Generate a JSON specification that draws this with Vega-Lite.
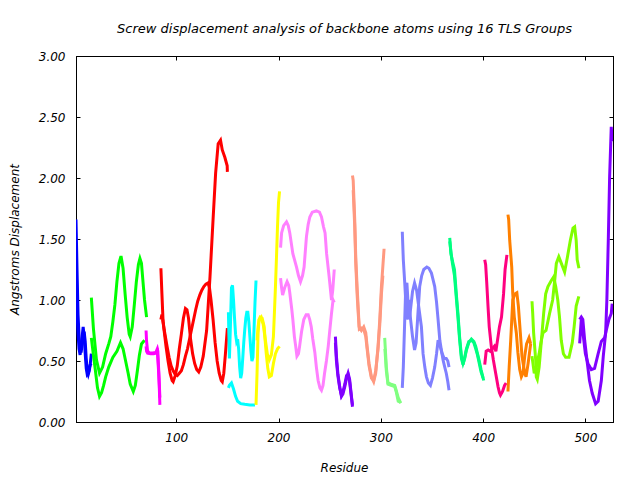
{
"$schema": "https://vega.github.io/schema/vega-lite/v6.json",
"width": 537, "height": 366,
"autosize": "none",
"padding": {"left": 76, "top": 56, "right": 27, "bottom": 58},
"background": "white",
"title": {"text": "Screw displacement analysis of backbone atoms using 16 TLS Groups", "font": "DejaVu Sans", "fontSize": 13, "fontStyle": "italic", "fontWeight": "normal", "color": "black", "anchor": "middle", "offset": 14},
"config": {
  "view": {"stroke": "black", "strokeWidth": 1},
  "axis": {"domainColor": "black", "tickColor": "black", "tickSize": -4, "grid": false, "labelFont": "DejaVu Sans", "labelFontStyle": "italic", "labelFontSize": 12, "labelColor": "black", "titleFont": "DejaVu Sans", "titleFontStyle": "italic", "titleFontWeight": "normal", "titleFontSize": 12, "titleColor": "black"}
},
"data": {"values": [
{"s":"1a","r":2,"v":1.66},{"s":"1a","r":3,"v":1.25},{"s":"1a","r":4,"v":0.88},{"s":"1a","r":5,"v":0.7},{"s":"1a","r":6,"v":0.6},{"s":"1a","r":7,"v":0.57},{"s":"1a","r":8,"v":0.64},{"s":"1a","r":9,"v":0.72},{"s":"1a","r":10,"v":0.74},{"s":"1a","r":11,"v":0.66},{"s":"1a","r":12,"v":0.52},{"s":"1a","r":13,"v":0.42},{"s":"1a","r":14,"v":0.39},{"s":"1a","r":15,"v":0.42},{"s":"1a","r":16,"v":0.48},{"s":"1a","r":17,"v":0.56},
{"s":"1b","r":2,"v":1.45},{"s":"1b","r":3,"v":0.9},{"s":"1b","r":4,"v":0.72},{"s":"1b","r":5,"v":0.6},{"s":"1b","r":6,"v":0.55},{"s":"1b","r":7,"v":0.62},{"s":"1b","r":8,"v":0.7},{"s":"1b","r":9,"v":0.78},{"s":"1b","r":10,"v":0.7},{"s":"1b","r":11,"v":0.56},{"s":"1b","r":12,"v":0.44},{"s":"1b","r":13,"v":0.39},{"s":"1b","r":14,"v":0.4},{"s":"1b","r":15,"v":0.44},{"s":"1b","r":16,"v":0.47},{"s":"1b","r":17,"v":0.48},
{"s":"2a","r":17,"v":1.02},{"s":"2a","r":19,"v":0.77},{"s":"2a","r":22,"v":0.51},{"s":"2a","r":25,"v":0.4},{"s":"2a","r":28,"v":0.45},{"s":"2a","r":31,"v":0.56},{"s":"2a","r":34,"v":0.64},{"s":"2a","r":36,"v":0.7},{"s":"2a","r":38,"v":0.82},{"s":"2a","r":40,"v":0.96},{"s":"2a","r":42,"v":1.15},{"s":"2a","r":44,"v":1.3},{"s":"2a","r":46,"v":1.36},{"s":"2a","r":48,"v":1.26},{"s":"2a","r":50,"v":1.05},{"s":"2a","r":52,"v":0.86},{"s":"2a","r":54,"v":0.72},{"s":"2a","r":55,"v":0.7},{"s":"2a","r":57,"v":0.78},{"s":"2a","r":59,"v":0.96},{"s":"2a","r":61,"v":1.15},{"s":"2a","r":63,"v":1.29},{"s":"2a","r":64.5,"v":1.34},{"s":"2a","r":66,"v":1.3},{"s":"2a","r":68,"v":1.1},{"s":"2a","r":69,"v":1.0},{"s":"2a","r":71,"v":0.86},
{"s":"2b","r":17,"v":0.69},{"s":"2b","r":19,"v":0.55},{"s":"2b","r":21,"v":0.42},{"s":"2b","r":23,"v":0.28},{"s":"2b","r":25,"v":0.21},{"s":"2b","r":27,"v":0.24},{"s":"2b","r":29,"v":0.3},{"s":"2b","r":31,"v":0.37},{"s":"2b","r":34,"v":0.45},{"s":"2b","r":38,"v":0.53},{"s":"2b","r":42,"v":0.58},{"s":"2b","r":45.5,"v":0.65},{"s":"2b","r":48,"v":0.6},{"s":"2b","r":50,"v":0.52},{"s":"2b","r":53,"v":0.4},{"s":"2b","r":55,"v":0.31},{"s":"2b","r":58,"v":0.25},{"s":"2b","r":60,"v":0.3},{"s":"2b","r":62,"v":0.42},{"s":"2b","r":64,"v":0.55},{"s":"2b","r":66,"v":0.64},{"s":"2b","r":69,"v":0.67},
{"s":"3a","r":70.5,"v":0.75},{"s":"3a","r":71,"v":0.66},{"s":"3a","r":72,"v":0.58},{"s":"3a","r":74,"v":0.565},{"s":"3a","r":77,"v":0.565},{"s":"3a","r":80,"v":0.57},{"s":"3a","r":81.5,"v":0.6},{"s":"3a","r":82,"v":0.58},{"s":"3a","r":83,"v":0.4},{"s":"3a","r":84,"v":0.14},
{"s":"3b","r":70.5,"v":0.62},{"s":"3b","r":71,"v":0.58},{"s":"3b","r":72,"v":0.565},{"s":"3b","r":75,"v":0.56},{"s":"3b","r":78,"v":0.56},{"s":"3b","r":80,"v":0.565},{"s":"3b","r":81.5,"v":0.58},{"s":"3b","r":82.5,"v":0.45},{"s":"3b","r":83.5,"v":0.3},{"s":"3b","r":84,"v":0.2},
{"s":"4a","r":85,"v":1.26},{"s":"4a","r":86,"v":1.05},{"s":"4a","r":87,"v":0.85},{"s":"4a","r":88,"v":0.76},{"s":"4a","r":90,"v":0.62},{"s":"4a","r":92,"v":0.5},{"s":"4a","r":94,"v":0.4},{"s":"4a","r":96,"v":0.34},{"s":"4a","r":97,"v":0.33},{"s":"4a","r":99,"v":0.38},{"s":"4a","r":101,"v":0.46},{"s":"4a","r":103,"v":0.6},{"s":"4a","r":105,"v":0.72},{"s":"4a","r":107,"v":0.85},{"s":"4a","r":109,"v":0.93},{"s":"4a","r":110.5,"v":0.92},{"s":"4a","r":112,"v":0.85},{"s":"4a","r":114,"v":0.68},{"s":"4a","r":116,"v":0.56},{"s":"4a","r":118,"v":0.48},{"s":"4a","r":120,"v":0.43},{"s":"4a","r":122,"v":0.41},{"s":"4a","r":124,"v":0.45},{"s":"4a","r":126.4,"v":0.54},{"s":"4a","r":129.7,"v":0.75},{"s":"4a","r":133,"v":1.19},{"s":"4a","r":136,"v":1.66},{"s":"4a","r":138.5,"v":2.04},{"s":"4a","r":141,"v":2.28},{"s":"4a","r":143.3,"v":2.31},{"s":"4a","r":145,"v":2.23},{"s":"4a","r":147.5,"v":2.17},{"s":"4a","r":149.8,"v":2.1},{"s":"4a","r":150,"v":2.05},
{"s":"4b","r":85,"v":0.84},{"s":"4b","r":86,"v":0.88},{"s":"4b","r":87,"v":0.82},{"s":"4b","r":89,"v":0.72},{"s":"4b","r":91,"v":0.62},{"s":"4b","r":93,"v":0.53},{"s":"4b","r":95,"v":0.46},{"s":"4b","r":97,"v":0.42},{"s":"4b","r":99,"v":0.39},{"s":"4b","r":101,"v":0.38},{"s":"4b","r":103,"v":0.4},{"s":"4b","r":105,"v":0.42},{"s":"4b","r":107,"v":0.47},{"s":"4b","r":109,"v":0.54},{"s":"4b","r":111,"v":0.6},{"s":"4b","r":113,"v":0.68},{"s":"4b","r":115,"v":0.76},{"s":"4b","r":117,"v":0.84},{"s":"4b","r":119,"v":0.92},{"s":"4b","r":121,"v":0.99},{"s":"4b","r":123,"v":1.04},{"s":"4b","r":125,"v":1.08},{"s":"4b","r":127,"v":1.11},{"s":"4b","r":129,"v":1.13},{"s":"4b","r":131,"v":1.14},{"s":"4b","r":132.5,"v":1.1},{"s":"4b","r":134,"v":1.0},{"s":"4b","r":136,"v":0.84},{"s":"4b","r":138,"v":0.65},{"s":"4b","r":140,"v":0.5},{"s":"4b","r":142,"v":0.4},{"s":"4b","r":144,"v":0.34},{"s":"4b","r":145,"v":0.33},{"s":"4b","r":146.5,"v":0.4},{"s":"4b","r":148,"v":0.55},{"s":"4b","r":150,"v":0.77},
{"s":"5a","r":151,"v":0.9},{"s":"5a","r":151.5,"v":0.7},{"s":"5a","r":152,"v":0.52},{"s":"5a","r":153,"v":0.8},{"s":"5a","r":154,"v":1.1},{"s":"5a","r":155,"v":1.12},{"s":"5a","r":156,"v":1.0},{"s":"5a","r":157,"v":0.85},{"s":"5a","r":158,"v":0.72},{"s":"5a","r":159,"v":0.66},{"s":"5a","r":160,"v":0.68},{"s":"5a","r":161,"v":0.6},{"s":"5a","r":162,"v":0.45},{"s":"5a","r":163,"v":0.36},{"s":"5a","r":164,"v":0.4},{"s":"5a","r":165,"v":0.52},{"s":"5a","r":166,"v":0.65},{"s":"5a","r":167,"v":0.76},{"s":"5a","r":168,"v":0.85},{"s":"5a","r":169,"v":0.9},{"s":"5a","r":170,"v":0.9},{"s":"5a","r":171,"v":0.82},{"s":"5a","r":172,"v":0.7},{"s":"5a","r":173,"v":0.58},{"s":"5a","r":174,"v":0.5},{"s":"5a","r":175,"v":0.53},{"s":"5a","r":176,"v":0.75},{"s":"5a","r":177,"v":0.98},{"s":"5a","r":178,"v":1.16},
{"s":"5b","r":151,"v":0.28},{"s":"5b","r":152,"v":0.3},{"s":"5b","r":154,"v":0.32},{"s":"5b","r":156,"v":0.27},{"s":"5b","r":158,"v":0.21},{"s":"5b","r":160,"v":0.17},{"s":"5b","r":163,"v":0.15},{"s":"5b","r":167,"v":0.145},{"s":"5b","r":172,"v":0.14},{"s":"5b","r":177,"v":0.14},
{"s":"6a","r":178,"v":0.14},{"s":"6a","r":179,"v":0.4},{"s":"6a","r":180,"v":0.73},{"s":"6a","r":181,"v":0.84},{"s":"6a","r":182,"v":0.86},{"s":"6a","r":184,"v":0.85},{"s":"6a","r":186,"v":0.78},{"s":"6a","r":187,"v":0.66},{"s":"6a","r":188,"v":0.56},{"s":"6a","r":189.5,"v":0.44},{"s":"6a","r":191,"v":0.37},{"s":"6a","r":193,"v":0.38},{"s":"6a","r":195,"v":0.48},{"s":"6a","r":197,"v":0.56},{"s":"6a","r":199,"v":0.6},{"s":"6a","r":201,"v":0.62},
{"s":"6b","r":179,"v":0.67},{"s":"6b","r":180,"v":0.78},{"s":"6b","r":181,"v":0.84},{"s":"6b","r":183,"v":0.86},{"s":"6b","r":185,"v":0.8},{"s":"6b","r":187,"v":0.68},{"s":"6b","r":189,"v":0.56},{"s":"6b","r":191,"v":0.51},{"s":"6b","r":193,"v":0.55},{"s":"6b","r":195,"v":0.7},{"s":"6b","r":196,"v":0.9},{"s":"6b","r":197,"v":1.11},{"s":"6b","r":198,"v":1.35},{"s":"6b","r":199,"v":1.6},{"s":"6b","r":200,"v":1.8},{"s":"6b","r":201,"v":1.89},
{"s":"7a","r":202,"v":1.43},{"s":"7a","r":203,"v":1.55},{"s":"7a","r":205,"v":1.61},{"s":"7a","r":207.8,"v":1.64},{"s":"7a","r":209.5,"v":1.61},{"s":"7a","r":211,"v":1.55},{"s":"7a","r":214,"v":1.38},{"s":"7a","r":217.6,"v":1.27},{"s":"7a","r":219.5,"v":1.2},{"s":"7a","r":221.5,"v":1.15},{"s":"7a","r":223.5,"v":1.2},{"s":"7a","r":225,"v":1.27},{"s":"7a","r":227.3,"v":1.52},{"s":"7a","r":229,"v":1.62},{"s":"7a","r":230.6,"v":1.68},{"s":"7a","r":233,"v":1.72},{"s":"7a","r":237,"v":1.73},{"s":"7a","r":240,"v":1.72},{"s":"7a","r":242,"v":1.68},{"s":"7a","r":244,"v":1.6},{"s":"7a","r":245.5,"v":1.55},{"s":"7a","r":247,"v":1.38},{"s":"7a","r":249.5,"v":1.19},{"s":"7a","r":251.8,"v":1.0},{"s":"7a","r":253,"v":1.08},{"s":"7a","r":254.5,"v":1.25},
{"s":"7b","r":202,"v":1.18},{"s":"7b","r":203,"v":1.1},{"s":"7b","r":204,"v":1.04},{"s":"7b","r":206,"v":1.1},{"s":"7b","r":208.4,"v":1.15},{"s":"7b","r":210,"v":1.12},{"s":"7b","r":211,"v":1.06},{"s":"7b","r":213,"v":0.92},{"s":"7b","r":214,"v":0.84},{"s":"7b","r":215.5,"v":0.7},{"s":"7b","r":216.8,"v":0.62},{"s":"7b","r":218,"v":0.54},{"s":"7b","r":219.5,"v":0.56},{"s":"7b","r":220.6,"v":0.62},{"s":"7b","r":222.5,"v":0.74},{"s":"7b","r":224.7,"v":0.84},{"s":"7b","r":227,"v":0.88},{"s":"7b","r":229,"v":0.88},{"s":"7b","r":230.5,"v":0.84},{"s":"7b","r":232,"v":0.78},{"s":"7b","r":233.5,"v":0.68},{"s":"7b","r":235.5,"v":0.57},{"s":"7b","r":237,"v":0.45},{"s":"7b","r":238.7,"v":0.34},{"s":"7b","r":240.5,"v":0.28},{"s":"7b","r":242,"v":0.26},{"s":"7b","r":243.5,"v":0.3},{"s":"7b","r":245,"v":0.4},{"s":"7b","r":246.8,"v":0.5},{"s":"7b","r":248.6,"v":0.62},{"s":"7b","r":250,"v":0.74},{"s":"7b","r":251.8,"v":0.89},{"s":"7b","r":253.3,"v":1.0},{"s":"7b","r":254.5,"v":0.98},
{"s":"8a","r":255.6,"v":0.7},{"s":"8a","r":256.6,"v":0.54},{"s":"8a","r":258,"v":0.4},{"s":"8a","r":259.8,"v":0.29},{"s":"8a","r":261.5,"v":0.21},{"s":"8a","r":263,"v":0.23},{"s":"8a","r":264.8,"v":0.29},{"s":"8a","r":266.5,"v":0.36},{"s":"8a","r":268,"v":0.4},{"s":"8a","r":269.5,"v":0.35},{"s":"8a","r":271.3,"v":0.21},{"s":"8a","r":272.3,"v":0.125},
{"s":"8b","r":255.6,"v":0.65},{"s":"8b","r":256.6,"v":0.5},{"s":"8b","r":258,"v":0.38},{"s":"8b","r":259.8,"v":0.28},{"s":"8b","r":261.5,"v":0.22},{"s":"8b","r":263,"v":0.25},{"s":"8b","r":264.8,"v":0.31},{"s":"8b","r":266.5,"v":0.38},{"s":"8b","r":268,"v":0.39},{"s":"8b","r":269.5,"v":0.33},{"s":"8b","r":271.3,"v":0.2},{"s":"8b","r":272.3,"v":0.14},
{"s":"9a","r":272.3,"v":2.02},{"s":"9a","r":273,"v":1.98},{"s":"9a","r":274.5,"v":1.66},{"s":"9a","r":275.5,"v":1.35},{"s":"9a","r":276.8,"v":1.11},{"s":"9a","r":278,"v":0.92},{"s":"9a","r":278.8,"v":0.78},{"s":"9a","r":281,"v":0.75},{"s":"9a","r":283.3,"v":0.78},{"s":"9a","r":285.3,"v":0.73},{"s":"9a","r":286.6,"v":0.62},{"s":"9a","r":288.5,"v":0.48},{"s":"9a","r":290.8,"v":0.37},{"s":"9a","r":293,"v":0.33},{"s":"9a","r":295,"v":0.4},{"s":"9a","r":297.3,"v":0.62},{"s":"9a","r":299,"v":0.84},{"s":"9a","r":300.6,"v":1.11},{"s":"9a","r":302.2,"v":1.3},{"s":"9a","r":303.2,"v":1.42},
{"s":"9b","r":273,"v":1.9},{"s":"9b","r":274.5,"v":1.6},{"s":"9b","r":275.5,"v":1.3},{"s":"9b","r":276.8,"v":1.05},{"s":"9b","r":278,"v":0.88},{"s":"9b","r":279,"v":0.76},{"s":"9b","r":281,"v":0.77},{"s":"9b","r":283.3,"v":0.76},{"s":"9b","r":285.3,"v":0.7},{"s":"9b","r":286.6,"v":0.6},{"s":"9b","r":288.5,"v":0.46},{"s":"9b","r":290.8,"v":0.36},{"s":"9b","r":293,"v":0.34},{"s":"9b","r":295,"v":0.42},{"s":"9b","r":297.3,"v":0.6},{"s":"9b","r":299,"v":0.8},{"s":"9b","r":300.6,"v":1.05},{"s":"9b","r":302,"v":1.2},
{"s":"10a","r":303.8,"v":0.69},{"s":"10a","r":305.4,"v":0.45},{"s":"10a","r":307,"v":0.32},{"s":"10a","r":310,"v":0.31},{"s":"10a","r":313.6,"v":0.3},{"s":"10a","r":315,"v":0.26},{"s":"10a","r":317,"v":0.2},{"s":"10a","r":319.5,"v":0.155},
{"s":"10b","r":304,"v":0.6},{"s":"10b","r":305.4,"v":0.42},{"s":"10b","r":307,"v":0.31},{"s":"10b","r":310,"v":0.3},{"s":"10b","r":313.6,"v":0.29},{"s":"10b","r":315,"v":0.25},{"s":"10b","r":317,"v":0.17},{"s":"10b","r":319.5,"v":0.16},
{"s":"11a","r":321,"v":1.56},{"s":"11a","r":322,"v":1.33},{"s":"11a","r":323.4,"v":1.14},{"s":"11a","r":324.5,"v":0.97},{"s":"11a","r":325,"v":0.84},{"s":"11a","r":326,"v":0.9},{"s":"11a","r":327,"v":1.0},{"s":"11a","r":328,"v":0.95},{"s":"11a","r":329,"v":0.85},{"s":"11a","r":331,"v":0.7},{"s":"11a","r":333,"v":0.59},{"s":"11a","r":334.5,"v":0.65},{"s":"11a","r":336,"v":0.85},{"s":"11a","r":338,"v":1.11},{"s":"11a","r":340,"v":1.2},{"s":"11a","r":342,"v":1.25},{"s":"11a","r":345,"v":1.27},{"s":"11a","r":347,"v":1.26},{"s":"11a","r":349.5,"v":1.22},{"s":"11a","r":351,"v":1.17},{"s":"11a","r":352.7,"v":1.11},{"s":"11a","r":354.5,"v":0.98},{"s":"11a","r":356,"v":0.84},{"s":"11a","r":357.7,"v":0.67},{"s":"11a","r":359,"v":0.6},{"s":"11a","r":360.8,"v":0.51},{"s":"11a","r":362.5,"v":0.45},{"s":"11a","r":364,"v":0.4},{"s":"11a","r":365.5,"v":0.33},{"s":"11a","r":366.7,"v":0.26},
{"s":"11b","r":321,"v":0.28},{"s":"11b","r":322,"v":0.45},{"s":"11b","r":323.4,"v":0.84},{"s":"11b","r":324.4,"v":1.11},{"s":"11b","r":325.5,"v":1.14},{"s":"11b","r":327.6,"v":0.84},{"s":"11b","r":329,"v":0.92},{"s":"11b","r":331,"v":1.07},{"s":"11b","r":333,"v":1.14},{"s":"11b","r":335,"v":1.08},{"s":"11b","r":337,"v":0.95},{"s":"11b","r":339.7,"v":0.78},{"s":"11b","r":341.3,"v":0.56},{"s":"11b","r":343,"v":0.45},{"s":"11b","r":344.6,"v":0.37},{"s":"11b","r":346.5,"v":0.32},{"s":"11b","r":348.5,"v":0.3},{"s":"11b","r":350.5,"v":0.36},{"s":"11b","r":352.7,"v":0.45},{"s":"11b","r":354.5,"v":0.56},{"s":"11b","r":356,"v":0.67},{"s":"11b","r":358,"v":0.62},{"s":"11b","r":360,"v":0.56},{"s":"11b","r":362,"v":0.52},{"s":"11b","r":364,"v":0.52},{"s":"11b","r":365.5,"v":0.5},{"s":"11b","r":366.7,"v":0.45},
{"s":"12a","r":367.4,"v":1.51},{"s":"12a","r":368.5,"v":1.38},{"s":"12a","r":370,"v":1.32},{"s":"12a","r":372,"v":1.25},{"s":"12a","r":374,"v":1.03},{"s":"12a","r":375.5,"v":0.88},{"s":"12a","r":377,"v":0.7},{"s":"12a","r":378.8,"v":0.54},{"s":"12a","r":380.4,"v":0.48},{"s":"12a","r":382,"v":0.52},{"s":"12a","r":383.7,"v":0.59},{"s":"12a","r":386,"v":0.65},{"s":"12a","r":388.6,"v":0.68},{"s":"12a","r":391,"v":0.66},{"s":"12a","r":392.8,"v":0.62},{"s":"12a","r":394.5,"v":0.56},{"s":"12a","r":396,"v":0.51},{"s":"12a","r":398,"v":0.43},{"s":"12a","r":400.6,"v":0.34},
{"s":"12b","r":367.4,"v":1.48},{"s":"12b","r":368.5,"v":1.4},{"s":"12b","r":370,"v":1.3},{"s":"12b","r":372,"v":1.2},{"s":"12b","r":374,"v":1.0},{"s":"12b","r":375.5,"v":0.85},{"s":"12b","r":377,"v":0.68},{"s":"12b","r":378.8,"v":0.52},{"s":"12b","r":380.4,"v":0.47},{"s":"12b","r":382,"v":0.53},{"s":"12b","r":383.7,"v":0.6},{"s":"12b","r":386,"v":0.66},{"s":"12b","r":388.6,"v":0.67},{"s":"12b","r":391,"v":0.65},{"s":"12b","r":392.8,"v":0.6},{"s":"12b","r":394.5,"v":0.55},{"s":"12b","r":396,"v":0.49},{"s":"12b","r":398,"v":0.41},{"s":"12b","r":400,"v":0.36},
{"s":"13a","r":401.6,"v":1.33},{"s":"13a","r":402.5,"v":1.29},{"s":"13a","r":403.5,"v":1.15},{"s":"13a","r":404.8,"v":0.95},{"s":"13a","r":406,"v":0.78},{"s":"13a","r":408,"v":0.62},{"s":"13a","r":410,"v":0.51},{"s":"13a","r":412.3,"v":0.4},{"s":"13a","r":414.6,"v":0.29},{"s":"13a","r":416,"v":0.24},{"s":"13a","r":417,"v":0.22},{"s":"13a","r":419,"v":0.25},{"s":"13a","r":421,"v":0.3},{"s":"13a","r":422.5,"v":0.32},
{"s":"13b","r":401.6,"v":0.47},{"s":"13b","r":403,"v":0.58},{"s":"13b","r":405,"v":0.59},{"s":"13b","r":407,"v":0.58},{"s":"13b","r":409,"v":0.6},{"s":"13b","r":411,"v":0.62},{"s":"13b","r":412.5,"v":0.58},{"s":"13b","r":414.6,"v":0.7},{"s":"13b","r":416,"v":0.78},{"s":"13b","r":418,"v":0.86},{"s":"13b","r":420,"v":1.05},{"s":"13b","r":421.5,"v":1.25},{"s":"13b","r":423.3,"v":1.37},
{"s":"14a","r":424.3,"v":1.7},{"s":"14a","r":425,"v":1.66},{"s":"14a","r":426,"v":1.49},{"s":"14a","r":428,"v":1.27},{"s":"14a","r":429,"v":1.05},{"s":"14a","r":430.5,"v":0.86},{"s":"14a","r":432.5,"v":0.73},{"s":"14a","r":434,"v":0.57},{"s":"14a","r":435.8,"v":0.43},{"s":"14a","r":437.4,"v":0.37},{"s":"14a","r":439,"v":0.4},{"s":"14a","r":440.7,"v":0.54},{"s":"14a","r":442.5,"v":0.64},{"s":"14a","r":444.9,"v":0.69},{"s":"14a","r":446.5,"v":0.64},
{"s":"14b","r":424.3,"v":0.25},{"s":"14b","r":425.5,"v":0.45},{"s":"14b","r":427,"v":0.67},{"s":"14b","r":429,"v":1.0},{"s":"14b","r":431,"v":1.05},{"s":"14b","r":433,"v":1.06},{"s":"14b","r":434.5,"v":0.95},{"s":"14b","r":436.4,"v":0.73},{"s":"14b","r":438,"v":0.54},{"s":"14b","r":440.7,"v":0.4},{"s":"14b","r":442,"v":0.37},{"s":"14b","r":444,"v":0.48},{"s":"14b","r":446.5,"v":0.64},
{"s":"15a","r":447.8,"v":0.99},{"s":"15a","r":448.5,"v":0.89},{"s":"15a","r":449.4,"v":0.73},{"s":"15a","r":451.4,"v":0.51},{"s":"15a","r":452,"v":0.37},{"s":"15a","r":453,"v":0.35},{"s":"15a","r":454.8,"v":0.45},{"s":"15a","r":457,"v":0.67},{"s":"15a","r":459.2,"v":0.89},{"s":"15a","r":461.2,"v":1.05},{"s":"15a","r":463.4,"v":1.11},{"s":"15a","r":466.7,"v":1.16},{"s":"15a","r":469,"v":1.19},{"s":"15a","r":471,"v":1.11},{"s":"15a","r":473,"v":1.0},{"s":"15a","r":474.7,"v":0.86},{"s":"15a","r":476.4,"v":0.67},{"s":"15a","r":478.5,"v":0.56},{"s":"15a","r":480.7,"v":0.53},{"s":"15a","r":484,"v":0.53},{"s":"15a","r":487.2,"v":0.65},{"s":"15a","r":489,"v":0.78},{"s":"15a","r":491,"v":0.95},{"s":"15a","r":493.6,"v":1.03},
{"s":"15b","r":447.8,"v":0.54},{"s":"15b","r":450,"v":0.4},{"s":"15b","r":452,"v":0.45},{"s":"15b","r":454.8,"v":0.56},{"s":"15b","r":456.5,"v":0.65},{"s":"15b","r":458.5,"v":0.73},{"s":"15b","r":461.5,"v":0.75},{"s":"15b","r":465,"v":0.89},{"s":"15b","r":468,"v":1.0},{"s":"15b","r":470,"v":1.16},{"s":"15b","r":471.6,"v":1.3},{"s":"15b","r":474,"v":1.355},{"s":"15b","r":476.5,"v":1.3},{"s":"15b","r":479.7,"v":1.23},{"s":"15b","r":482.5,"v":1.355},{"s":"15b","r":485.3,"v":1.49},{"s":"15b","r":487.9,"v":1.59},{"s":"15b","r":489.5,"v":1.6},{"s":"15b","r":491,"v":1.49},{"s":"15b","r":492,"v":1.33},{"s":"15b","r":493.7,"v":1.26},
{"s":"16a","r":494.4,"v":0.84},{"s":"16a","r":496,"v":0.86},{"s":"16a","r":497.5,"v":0.84},{"s":"16a","r":499.3,"v":0.67},{"s":"16a","r":501.5,"v":0.51},{"s":"16a","r":504,"v":0.34},{"s":"16a","r":506.7,"v":0.235},{"s":"16a","r":510,"v":0.15},{"s":"16a","r":512.5,"v":0.17},{"s":"16a","r":515.6,"v":0.34},{"s":"16a","r":517.5,"v":0.54},{"s":"16a","r":519.8,"v":0.73},{"s":"16a","r":521,"v":1.0},{"s":"16a","r":522.4,"v":1.49},{"s":"16a","r":523.7,"v":2.01},{"s":"16a","r":525.3,"v":2.42},{"s":"16a","r":526.2,"v":2.3},
{"s":"16b","r":494.4,"v":0.645},{"s":"16b","r":496,"v":0.84},{"s":"16b","r":497.5,"v":0.74},{"s":"16b","r":500,"v":0.56},{"s":"16b","r":502.5,"v":0.48},{"s":"16b","r":505.8,"v":0.43},{"s":"16b","r":509,"v":0.44},{"s":"16b","r":512.5,"v":0.56},{"s":"16b","r":515.6,"v":0.66},{"s":"16b","r":518.8,"v":0.69},{"s":"16b","r":520.4,"v":0.75},{"s":"16b","r":523,"v":0.84},{"s":"16b","r":525.3,"v":0.89},{"s":"16b","r":526.2,"v":0.97}
]},
"layer": [
  {
    "mark": {"type": "line", "strokeWidth": 3, "clip": true},
    "encoding": {
      "x": {"field": "r", "type": "quantitative", "scale": {"domain": [2, 527], "nice": false, "zero": false}, "axis": {"orient": "bottom", "values": [100, 200, 300, 400, 500], "labelPadding": 14, "title": "Residue", "titleX": 268, "titleY": 45, "titleBaseline": "middle", "titleAlign": "center"}},
      "y": {"field": "v", "type": "quantitative", "scale": {"domain": [0, 3], "nice": false}, "axis": {"orient": "left", "values": [0, 0.5, 1, 1.5, 2, 2.5, 3], "format": ".2f", "labelPadding": 15, "title": "Angstroms Displacement", "titleX": -62, "titleY": 183, "titleAngle": -90, "titleAlign": "center", "titleBaseline": "middle"}},
      "color": {"field": "s", "type": "nominal", "legend": null, "scale": {
        "domain": ["1a","1b","2a","2b","3a","3b","4a","4b","5a","5b","6a","6b","7a","7b","8a","8b","9a","9b","10a","10b","11a","11b","12a","12b","13a","13b","14a","14b","15a","15b","16a","16b"],
        "range": ["#0000ff","#0000ff","#00ff00","#00ff00","#ff00ff","#ff00ff","#ff0000","#ff0000","#00ffff","#00ffff","#ffff00","#ffff00","#ff80ff","#ff80ff","#8000ff","#8000ff","#ff9980","#ff9980","#80ff80","#80ff80","#8080ff","#8080ff","#00ff80","#00ff80","#ff0080","#ff0080","#ff8000","#ff8000","#80ff00","#80ff00","#8000ff","#8000ff"]}}
    }
  },
  {
    "mark": {"type": "point", "opacity": 0},
    "encoding": {
      "x": {"field": "r", "type": "quantitative", "scale": {"domain": [2, 527], "nice": false, "zero": false}, "axis": {"orient": "top", "values": [100, 200, 300, 400, 500], "labels": false, "title": null}},
      "y": {"field": "v", "type": "quantitative", "scale": {"domain": [0, 3], "nice": false}, "axis": {"orient": "right", "values": [0, 0.5, 1, 1.5, 2, 2.5, 3], "labels": false, "title": null}}
    }
  }
],
"resolve": {"axis": {"x": "independent", "y": "independent"}}
}
